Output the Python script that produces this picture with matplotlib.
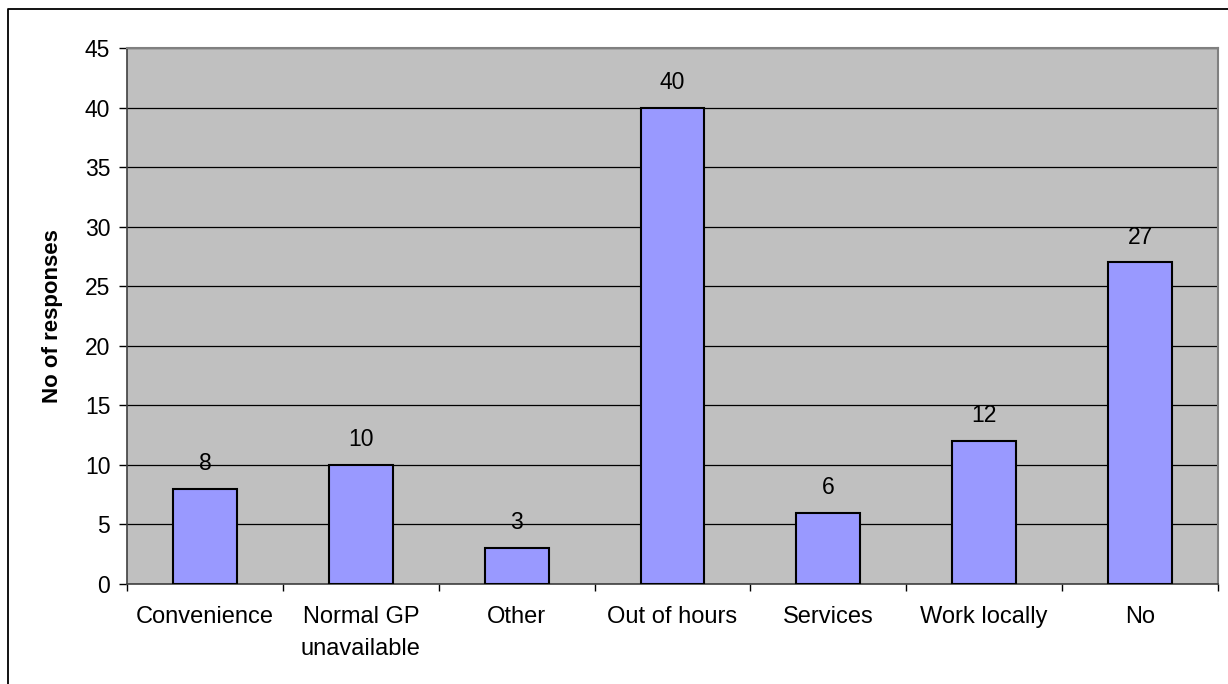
import matplotlib.pyplot as plt
from matplotlib.lines import Line2D

plt.rcParams.update({
    'font.family': ['Liberation Sans', 'DejaVu Sans'],
    'font.size': 16,
})

categories = ['Convenience', 'Normal GP\nunavailable', 'Other', 'Out of hours',
              'Services', 'Work locally', 'No']
responses = [8, 10, 3, 40, 6, 12, 27]
yticks = list(range(0, 50, 5))

W, H = 1228, 684
fig = plt.figure(figsize=(W / 100, H / 100), dpi=100)
ax = fig.add_axes([127 / W, 1 - 584 / H, (1218 - 127) / W, (584 - 48) / H])

# outer chart border (only left and top edges are visible in the crop)
fig.lines.append(Line2D([7.5 / W, 7.5 / W, 1], [0, 1 - 8.5 / H, 1 - 8.5 / H],
                        transform=fig.transFigure, color='black', linewidth=1.3))

ax.set_facecolor('#c0c0c0')
x = range(len(categories))
ax.bar(x, responses, width=0.41, color='#9999ff', edgecolor='black',
       linewidth=1.5, zorder=3)
for xi, v in zip(x, responses):
    ax.annotate(str(v), (xi, v), xytext=(0, 10), textcoords='offset points',
                ha='center', va='bottom', fontsize=16.5)

ax.set_xlim(-0.5, len(categories) - 0.5)
ax.set_ylim(0, 45)
ax.set_yticks(yticks)
ax.yaxis.grid(True, color='black', linewidth=0.9, zorder=1)
ax.set_axisbelow(True)

ax.set_xticks(x)
ax.set_xticklabels(categories, linespacing=1.6, fontsize=17)
ax.tick_params(axis='x', length=0, pad=16)
ax.set_xticks([i - 0.5 for i in range(len(categories) + 1)], minor=True)
ax.tick_params(axis='x', which='minor', length=5, width=1, direction='out')
ax.tick_params(axis='y', length=6, width=1, direction='out', pad=6,
               labelsize=16.5)

for side in ['top', 'right']:
    ax.spines[side].set_color('#808080')
    ax.spines[side].set_linewidth(1.5)
for side in ['left', 'bottom']:
    ax.spines[side].set_color('#404040')
    ax.spines[side].set_linewidth(1.2)

ax.set_ylabel('No of responses', fontweight='bold', fontsize=16, labelpad=16)

fig.savefig('out.png', dpi=100)
